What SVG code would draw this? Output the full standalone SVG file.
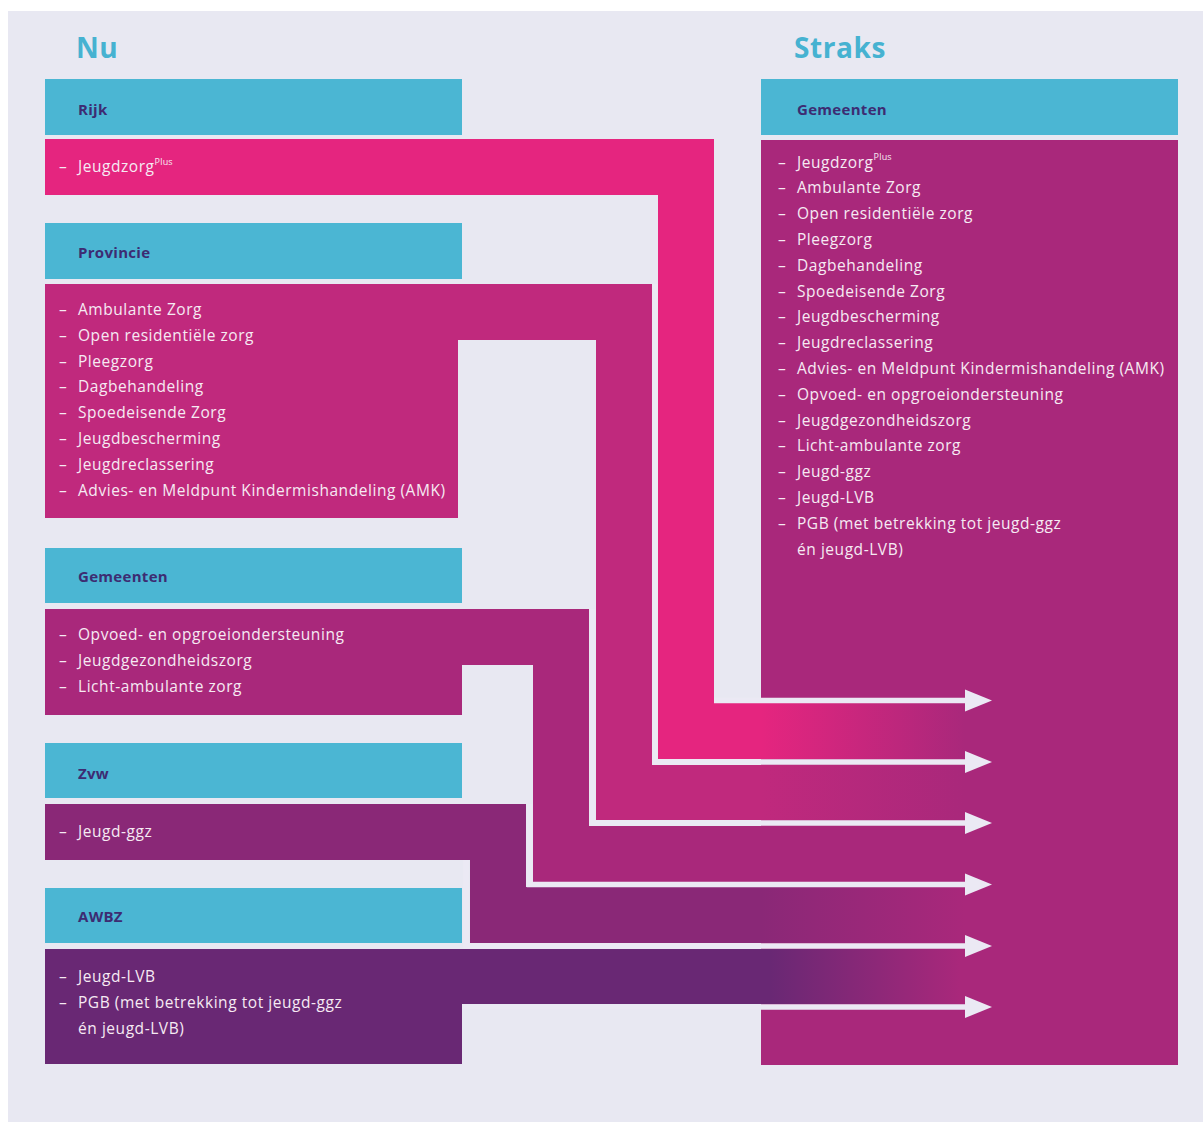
<svg xmlns="http://www.w3.org/2000/svg" width="1203" height="1122" viewBox="0 0 1203 1122">
<style>
  .title{font-family:"Open Sans","Noto Sans",sans-serif;font-weight:700;font-size:28px;fill:#46b2d1;letter-spacing:0.6px}
  .hdr{fill:#4bb6d3}
  .htxt{font-family:"Open Sans","Noto Sans",sans-serif;font-weight:700;font-size:15px;fill:#3d2c72;letter-spacing:0.3px}
  .item{font-family:"Open Sans","Noto Sans",sans-serif;font-size:15.5px;fill:#f6eaf3;letter-spacing:0.55px}
  .sup{font-size:9px;letter-spacing:0.2px}
  .conn{fill:none;stroke:#ebe9f4;stroke-width:5.5;marker-end:url(#arr)}
</style>
<defs>
  <marker id="arr" markerUnits="userSpaceOnUse" markerWidth="28" markerHeight="24" refX="0" refY="12" orient="auto">
    <path d="M0,1 L27,12 L0,23 Z" fill="#ebe9f4"/>
  </marker>
  <linearGradient id="gPink" gradientUnits="userSpaceOnUse" x1="761" y1="0" x2="965" y2="0"><stop offset="0" stop-color="#e5257f"/><stop offset="1" stop-color="#a9287b"/></linearGradient>
  <linearGradient id="gProv" gradientUnits="userSpaceOnUse" x1="761" y1="0" x2="965" y2="0"><stop offset="0" stop-color="#c0297d"/><stop offset="1" stop-color="#a9287b"/></linearGradient>
  <linearGradient id="gZvw" gradientUnits="userSpaceOnUse" x1="761" y1="0" x2="965" y2="0"><stop offset="0" stop-color="#8a2877"/><stop offset="1" stop-color="#a9287b"/></linearGradient>
  <linearGradient id="gAwbz" gradientUnits="userSpaceOnUse" x1="770" y1="0" x2="960" y2="0"><stop offset="0" stop-color="#692874"/><stop offset="1" stop-color="#a9287b"/></linearGradient>
</defs>
<rect x="0" y="0" width="1203" height="1122" fill="#ffffff"/>
<rect x="8" y="11" width="1195" height="1111" fill="#e8e8f2"/>

<text class="title" x="76" y="58">Nu</text>
<text class="title" x="794" y="58">Straks</text>

<g id="straks">
  <rect class="hdr" x="761" y="79" width="417" height="56"/>
  <text class="htxt" x="797" y="115">Gemeenten</text>
  <rect x="761" y="140" width="417" height="925" fill="#a9287b"/>
</g>

<g id="rijk">
  <rect class="hdr" x="45" y="79" width="417" height="56"/>
  <text class="htxt" x="78" y="115">Rijk</text>
  <polygon points="45,139 714,139 714,703 762,703 762,759 658,759 658,195 45,195" fill="#e5257f"/>
  <rect x="761" y="703" width="417" height="56" fill="url(#gPink)"/>
  <g class="item">
    <text x="59" y="172">–</text>
    <text x="78" y="172">Jeugdzorg<tspan class="sup" dy="-7.5">Plus</tspan></text>
  </g>
</g>

<g id="provincie">
  <rect class="hdr" x="45" y="223" width="417" height="56"/>
  <text class="htxt" x="78" y="258">Provincie</text>
  <polygon points="45,284 652,284 652,765 762,765 762,820 596,820 596,340 458,340 458,518 45,518" fill="#c0297d"/>
  <rect x="761" y="765" width="417" height="55" fill="url(#gProv)"/>
  <g class="item">
    <text x="59" y="315">–</text><text x="78" y="315">Ambulante Zorg</text>
    <text x="59" y="341">–</text><text x="78" y="341">Open residentiële zorg</text>
    <text x="59" y="366.5">–</text><text x="78" y="366.5">Pleegzorg</text>
    <text x="59" y="392">–</text><text x="78" y="392">Dagbehandeling</text>
    <text x="59" y="418">–</text><text x="78" y="418">Spoedeisende Zorg</text>
    <text x="59" y="444">–</text><text x="78" y="444">Jeugdbescherming</text>
    <text x="59" y="470">–</text><text x="78" y="470">Jeugdreclassering</text>
    <text x="59" y="495.5">–</text><text x="78" y="495.5">Advies- en Meldpunt Kindermishandeling (AMK)</text>
  </g>
</g>

<g id="gemeenten-nu">
  <rect class="hdr" x="45" y="548" width="417" height="55"/>
  <text class="htxt" x="78" y="581.5">Gemeenten</text>
  <polygon points="45,609 589,609 589,826 762,826 762,882 533,882 533,665 462,665 462,715 45,715" fill="#a9287b"/>
  <g class="item">
    <text x="59" y="640">–</text><text x="78" y="640">Opvoed- en opgroeiondersteuning</text>
    <text x="59" y="666">–</text><text x="78" y="666">Jeugdgezondheidszorg</text>
    <text x="59" y="692">–</text><text x="78" y="692">Licht-ambulante zorg</text>
  </g>
</g>

<g id="zvw">
  <rect class="hdr" x="45" y="743" width="417" height="55"/>
  <text class="htxt" x="78" y="778.5">Zvw</text>
  <polygon points="45,804 526,804 526,887 762,887 762,943 470,943 470,860 45,860" fill="#8a2877"/>
  <rect x="761" y="887" width="417" height="56" fill="url(#gZvw)"/>
  <g class="item">
    <text x="59" y="837">–</text><text x="78" y="837">Jeugd-ggz</text>
  </g>
</g>

<g id="awbz">
  <rect class="hdr" x="45" y="888" width="417" height="55"/>
  <text class="htxt" x="78" y="922">AWBZ</text>
  <polygon points="45,949 762,949 762,1004 462,1004 462,1064 45,1064" fill="#692874"/>
  <rect x="761" y="949" width="417" height="55" fill="url(#gAwbz)"/>
  <g class="item">
    <text x="59" y="982">–</text><text x="78" y="982">Jeugd-LVB</text>
    <text x="59" y="1008">–</text><text x="78" y="1008">PGB (met betrekking tot jeugd-ggz</text>
    <text x="78" y="1034">én jeugd-LVB)</text>
  </g>
</g>

<g id="straks-list" class="item">
  <text x="778" y="167.5">–</text><text x="797" y="167.5">Jeugdzorg<tspan class="sup" dy="-7.5">Plus</tspan></text>
  <text x="778" y="193.3">–</text><text x="797" y="193.3">Ambulante Zorg</text>
  <text x="778" y="219.1">–</text><text x="797" y="219.1">Open residentiële zorg</text>
  <text x="778" y="244.9">–</text><text x="797" y="244.9">Pleegzorg</text>
  <text x="778" y="270.7">–</text><text x="797" y="270.7">Dagbehandeling</text>
  <text x="778" y="296.5">–</text><text x="797" y="296.5">Spoedeisende Zorg</text>
  <text x="778" y="322.3">–</text><text x="797" y="322.3">Jeugdbescherming</text>
  <text x="778" y="348.1">–</text><text x="797" y="348.1">Jeugdreclassering</text>
  <text x="778" y="373.9">–</text><text x="797" y="373.9">Advies- en Meldpunt Kindermishandeling (AMK)</text>
  <text x="778" y="399.7">–</text><text x="797" y="399.7">Opvoed- en opgroeiondersteuning</text>
  <text x="778" y="425.5">–</text><text x="797" y="425.5">Jeugdgezondheidszorg</text>
  <text x="778" y="451.3">–</text><text x="797" y="451.3">Licht-ambulante zorg</text>
  <text x="778" y="477.1">–</text><text x="797" y="477.1">Jeugd-ggz</text>
  <text x="778" y="502.9">–</text><text x="797" y="502.9">Jeugd-LVB</text>
  <text x="778" y="528.7">–</text><text x="797" y="528.7">PGB (met betrekking tot jeugd-ggz</text>
  <text x="797" y="554.5">én jeugd-LVB)</text>
</g>

<g id="connectors">
  <path class="conn" d="M714,700.5 H965"/>
  <path class="conn" d="M655,284 V762 H965"/>
  <path class="conn" d="M592.5,609 V823 H965"/>
  <path class="conn" d="M529.5,804 V884.5 H965"/>
  <path class="conn" d="M466,860 V946 H965"/>
  <path class="conn" d="M462,1007 H965"/>
</g>
</svg>
